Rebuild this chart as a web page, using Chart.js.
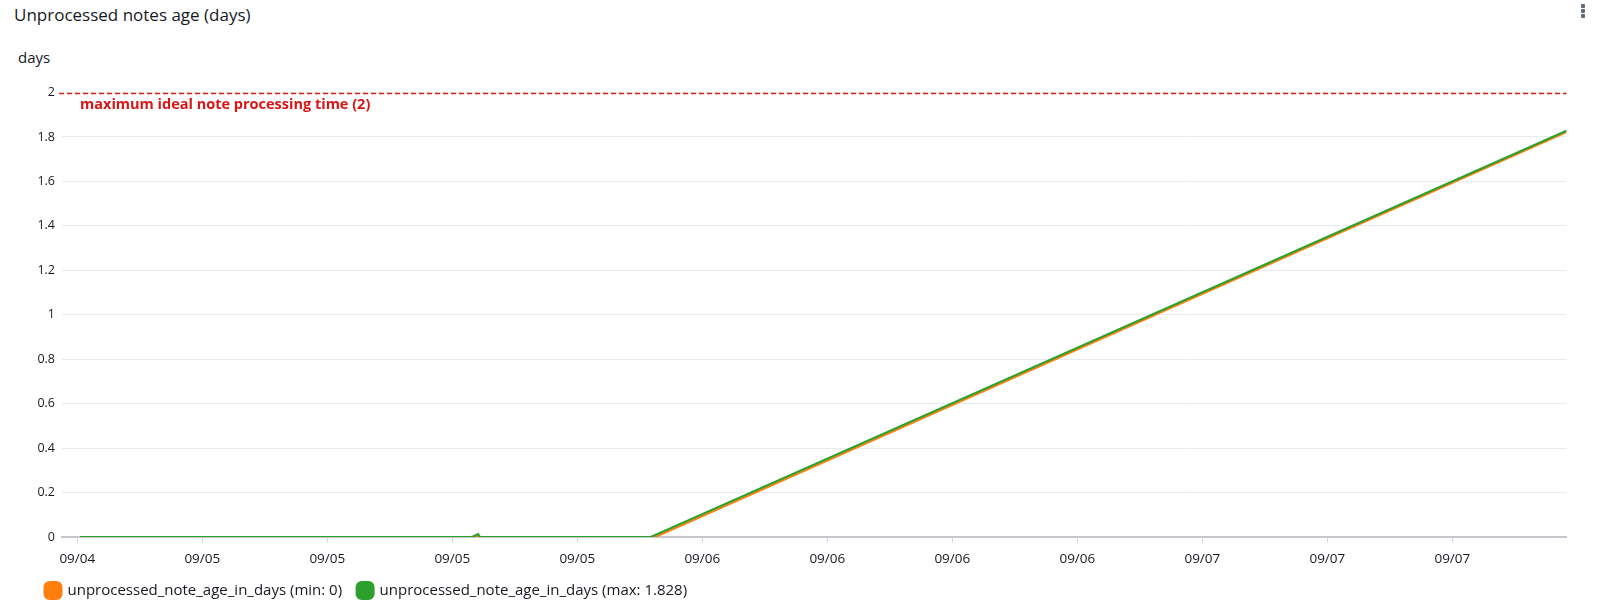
<!DOCTYPE html>
<html>
<head>
<meta charset="utf-8">
<script src="https://cdn.jsdelivr.net/npm/chart.js@4.4.1/dist/chart.umd.min.js"></script>
<style>
  html, body { margin: 0; padding: 0; background: #ffffff; width: 1600px; height: 611px; overflow: hidden; font-family: "Open Sans", sans-serif; }
  #wrap { position: relative; width: 1600px; height: 611px; }
  #title { position: absolute; left: 14px; top: 3px; font-size: 17px; color: #16191f; white-space: nowrap; }
  #unit { position: absolute; left: 18px; top: 47px; font-size: 15px; color: #16191f; }
  #menu { position: absolute; left: 1581px; top: 4px; width: 5px; }
  #menu div { width: 4px; height: 4px; background: #5f6b7a; margin-bottom: 1px; border-radius: 1px; }
  canvas { position: absolute; left: 0; top: 0; }
</style>
</head>
<body>
<div id="wrap">
  <div id="title">Unprocessed notes age (days)</div>
  <div id="unit">days</div>
  <div id="menu"><div></div><div></div><div></div></div>
  <canvas id="c" width="1600" height="611"></canvas>
</div>
<script>
// hours since 09/04 00:00
const minHours = [18.13, 37.0, 37.15, 37.3, 45.75, 89.48];
const minValues = [0, 0, 0.004, 0, 0, 1.822];
const maxHours = [18.13, 36.95, 37.24, 37.33, 45.53, 89.48];
const maxValues = [0, 0, 0.013, 0, 0, 1.828];
const tickHours = [18, 24, 30, 36, 42, 48, 54, 60, 66, 72, 78, 84];
const tickLabels = ["09/04", "09/05", "09/05", "09/05", "09/05", "09/06", "09/06", "09/06", "09/06", "09/07", "09/07", "09/07"];
const seriesLabels = ["unprocessed_note_age_in_days (min: 0)", "unprocessed_note_age_in_days (max: 1.828)"];
const thresholdValue = 2;
const thresholdLabel = "maximum ideal note processing time (2)";
const xRange = [17.266, 89.48];
const yRange = [0, 2];

const toPoints = (xs, ys) => xs.map((x, i) => ({ x: x, y: ys[i] }));

const thresholdPlugin = {
  id: 'threshold',
  afterDraw(chart) {
    const { ctx, chartArea, scales } = chart;
    const y = Math.round(scales.y.getPixelForValue(thresholdValue)) + 0.5;
    ctx.save();
    ctx.strokeStyle = '#e0201b';
    ctx.lineWidth = 1.3;
    ctx.setLineDash([5, 3]);
    ctx.beginPath();
    ctx.moveTo(chartArea.left - 3, y);
    ctx.lineTo(chartArea.right, y);
    ctx.stroke();
    ctx.setLineDash([]);
    ctx.fillStyle = '#d91515';
    ctx.font = 'bold 14.5px "Open Sans", sans-serif';
    ctx.textBaseline = 'alphabetic';
    ctx.textAlign = 'left';
    ctx.fillText(thresholdLabel, 80, y + 15);
    ctx.restore();
  }
};

new Chart(document.getElementById('c'), {
  type: 'line',
  data: {
    datasets: [
      {
        label: seriesLabels[0],
        data: toPoints(minHours, minValues),
        borderColor: '#ff7f0e',
        backgroundColor: '#ff7f0e',
        borderWidth: 2,
        pointRadius: 0,
        tension: 0,
        order: 2
      },
      {
        label: seriesLabels[1],
        data: toPoints(maxHours, maxValues),
        borderColor: '#2ca02c',
        backgroundColor: '#2ca02c',
        borderWidth: 2,
        pointRadius: 0,
        tension: 0,
        order: 1
      }
    ]
  },
  options: {
    responsive: false,
    animation: false,
    devicePixelRatio: 1,
    layout: { padding: { left: 30, right: 33.5, top: 92.5, bottom: 3 } },
    plugins: {
      tooltip: { enabled: false },
      legend: {
        position: 'bottom',
        align: 'start',
        labels: {
          usePointStyle: true,
          pointStyle: 'rectRounded',
          boxWidth: 14,
          boxHeight: 14,
          padding: 16,
          color: '#16191f',
          font: { family: '"Open Sans", sans-serif', size: 15 },
          sort: (a, b) => a.datasetIndex - b.datasetIndex
        }
      }
    },
    scales: {
      x: {
        type: 'linear',
        min: xRange[0],
        max: xRange[1],
        afterBuildTicks: (scale) => { scale.ticks = tickHours.map(v => ({ value: v })); },
        afterFit: (scale) => { scale.height = 30; },
        grid: { display: true, drawOnChartArea: false, drawTicks: true, tickLength: 6, color: '#d5d8dc' },
        border: { display: true, color: '#c4c7cc', width: 2 },
        ticks: {
          autoSkip: false,
          maxRotation: 0,
          padding: 8,
          color: '#16191f',
          font: { family: '"Open Sans", sans-serif', size: 13.5 },
          callback: (value, index) => tickLabels[index]
        }
      },
      y: {
        min: yRange[0],
        max: yRange[1],
        afterFit: (scale) => { scale.width = 32; },
        grid: { color: '#e9ebed', drawTicks: false },
        border: { display: false },
        ticks: {
          stepSize: 0.2,
          padding: 7,
          color: '#16191f',
          font: { family: '"Open Sans", sans-serif', size: 12.5 },
          callback: (v) => String(Number(v.toFixed(1)))
        }
      }
    }
  },
  plugins: [thresholdPlugin]
});
</script>
</body>
</html>
